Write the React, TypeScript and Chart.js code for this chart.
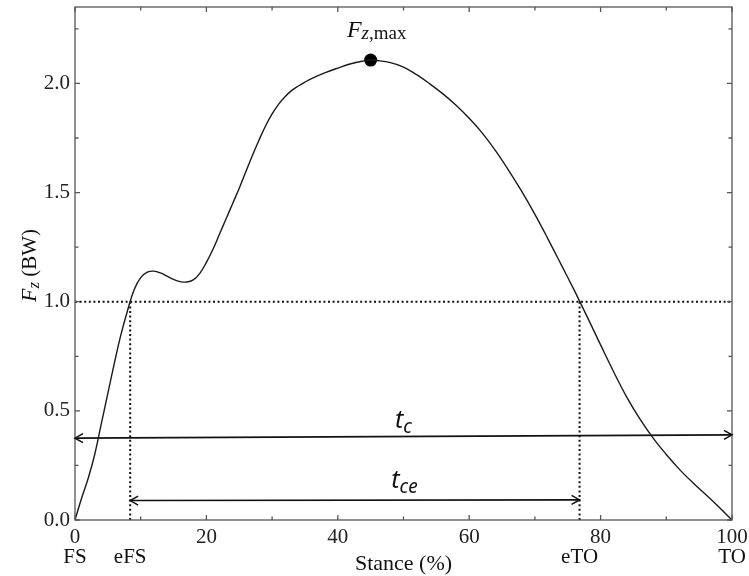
import React, { useEffect, useRef } from "react";
import { Chart, registerables } from "chart.js";

Chart.register(...registerables);

// Stance (%) and vertical GRF (BW)
const stance = [0, 1, 2, 3, 4, 5, 6, 7, 8, 9, 10, 11, 12, 13, 14, 15, 16, 17, 18, 19, 20, 21, 22, 23, 24, 25, 26, 27, 28, 29, 30, 31, 32, 33, 34, 35, 36, 38, 40, 42, 44, 45, 46, 48, 50, 52, 54, 56, 58, 60, 62, 64, 66, 68, 70, 72, 74, 76, 77, 78, 80, 82, 84, 86, 88, 90, 92, 94, 96, 98, 100];
const force = [0, 0.1, 0.19, 0.3, 0.44, 0.58, 0.72, 0.85, 0.96, 1.055, 1.11, 1.135, 1.14, 1.132, 1.117, 1.102, 1.092, 1.09, 1.1, 1.13, 1.18, 1.24, 1.31, 1.38, 1.45, 1.52, 1.595, 1.67, 1.74, 1.805, 1.86, 1.905, 1.94, 1.968, 1.988, 2.006, 2.022, 2.048, 2.07, 2.09, 2.103, 2.107, 2.105, 2.095, 2.075, 2.04, 1.998, 1.952, 1.9, 1.84, 1.772, 1.692, 1.602, 1.505, 1.4, 1.287, 1.17, 1.052, 0.99, 0.928, 0.802, 0.678, 0.562, 0.462, 0.375, 0.3, 0.232, 0.172, 0.117, 0.06, 0];

const xTicks = [0, 20, 40, 60, 80, 100];
const xMinor = [10, 30, 50, 70, 90];
const yTicks = [0, 0.5, 1.0, 1.5, 2.0];
const yMinor = [0.25, 0.75, 1.25, 1.75, 2.25];

const peakX = [45];
const peakY = [2.107];
const threshold = [1.0];
const eventX = [8.4, 76.8]; // eFS, eTO
const tcX = [0, 100];
const tcY = [0.375, 0.39];
const tceX = [8.4, 76.8];
const tceY = [0.089, 0.092];
const bottomLabels = ["FS", "eFS", "eTO", "TO"];
const bottomLabelX = [0, 8.4, 76.8, 100];

const SERIF = '"Liberation Serif", "Times New Roman", serif';
const SANS = '"Noto Sans", "Open Sans", sans-serif';

type Part = { text: string; font: string; dy?: number };

function drawParts(ctx: CanvasRenderingContext2D, parts: Part[], x: number, y: number) {
  let total = 0;
  const widths = parts.map((p) => {
    ctx.font = p.font;
    const w = ctx.measureText(p.text).width;
    total += w;
    return w;
  });
  let cx = x - total / 2;
  ctx.textAlign = "left";
  ctx.textBaseline = "alphabetic";
  parts.forEach((p, i) => {
    ctx.font = p.font;
    ctx.fillText(p.text, cx, y + (p.dy || 0));
    cx += widths[i];
  });
}

function arrowHead(ctx: CanvasRenderingContext2D, x: number, y: number, dir: number, angle: number) {
  const len = 8;
  const half = 4.5;
  ctx.save();
  ctx.translate(x, y);
  ctx.rotate(angle);
  ctx.beginPath();
  ctx.moveTo(-dir * len, -half);
  ctx.lineTo(0, 0);
  ctx.lineTo(-dir * len, half);
  ctx.stroke();
  ctx.restore();
}

const decor = {
  id: "decor",
  afterDatasetsDraw(chart: any) {
    const { ctx, chartArea: a, scales } = chart;
    const xs = scales.x;
    const ys = scales.y;
    ctx.save();
    // frame
    ctx.strokeStyle = "#555";
    ctx.lineWidth = 1.3;
    ctx.strokeRect(a.left, a.top, a.right - a.left, a.bottom - a.top);
    // inward ticks
    ctx.beginPath();
    const tickX = (v: number, len: number) => {
      const px = xs.getPixelForValue(v);
      ctx.moveTo(px, a.bottom);
      ctx.lineTo(px, a.bottom - len);
      ctx.moveTo(px, a.top);
      ctx.lineTo(px, a.top + len);
    };
    const tickY = (v: number, len: number) => {
      const py = ys.getPixelForValue(v);
      ctx.moveTo(a.left, py);
      ctx.lineTo(a.left + len, py);
      ctx.moveTo(a.right, py);
      ctx.lineTo(a.right - len, py);
    };
    xTicks.forEach((v) => tickX(v, 5));
    xMinor.forEach((v) => tickX(v, 3.5));
    yTicks.forEach((v) => tickY(v, 5));
    yMinor.forEach((v) => tickY(v, 3.5));
    ctx.stroke();

    // arrow heads
    ctx.strokeStyle = "#111";
    ctx.lineWidth = 1.5;
    const heads = (X: number[], Y: number[]) => {
      const x0 = xs.getPixelForValue(X[0]);
      const y0 = ys.getPixelForValue(Y[0]);
      const x1 = xs.getPixelForValue(X[1]);
      const y1 = ys.getPixelForValue(Y[1]);
      const ang = Math.atan2(y1 - y0, x1 - x0);
      arrowHead(ctx, x1, y1, 1, ang);
      arrowHead(ctx, x0, y0, -1, ang);
    };
    heads(tcX, tcY);
    heads(tceX, tceY);

    ctx.fillStyle = "#111";
    // peak label
    const pkx = xs.getPixelForValue(peakX[0]);
    const pky = ys.getPixelForValue(peakY[0]);
    drawParts(ctx, [
      { text: "F", font: `italic 24px ${SERIF}` },
      { text: "z", font: `italic 19px ${SERIF}`, dy: 2 },
      { text: ",max", font: `19px ${SERIF}`, dy: 2 },
    ], pkx + 6, pky - 23);

    // t_c, t_ce labels
    const mid = xs.getPixelForValue(50);
    drawParts(ctx, [
      { text: "t", font: `italic 25px ${SANS}` },
      { text: "c", font: `italic 19px ${SANS}`, dy: 5 },
    ], mid + 0, ys.getPixelForValue(tcY[0]) - 10);
    drawParts(ctx, [
      { text: "t", font: `italic 25px ${SANS}` },
      { text: "ce", font: `italic 19px ${SANS}`, dy: 5 },
    ], mid + 1, ys.getPixelForValue(tceY[0]) - 13);

    // bottom event labels
    bottomLabels.forEach((t, i) => {
      drawParts(ctx, [{ text: t, font: `21px ${SERIF}` }], xs.getPixelForValue(bottomLabelX[i]), 563);
    });
    // x title
    drawParts(ctx, [{ text: "Stance (%)", font: `22px ${SERIF}` }], (a.left + a.right) / 2, 570);

    // y title
    ctx.save();
    ctx.translate(29, (a.top + a.bottom) / 2 + 2);
    ctx.rotate(-Math.PI / 2);
    drawParts(ctx, [
      { text: "F", font: `italic 22px ${SERIF}` },
      { text: "z", font: `italic 17px ${SERIF}`, dy: 3 },
      { text: " (BW)", font: `21px ${SERIF}` },
    ], 0, 7);
    ctx.restore();
    ctx.restore();
  },
};

export default function App() {
  const ref = useRef<HTMLCanvasElement | null>(null);
  useEffect(() => {
    if (!ref.current) return;
    const curve = stance.map((x, i) => ({ x, y: force[i] }));
    const dotted = {
      borderColor: "#111",
      borderWidth: 2,
      borderDash: [2, 2.6],
      pointRadius: 0,
      fill: false,
    };
    const chart = new Chart(ref.current, {
      type: "line",
      data: {
        datasets: [
          { data: curve, borderColor: "#1a1a1a", borderWidth: 1.4, pointRadius: 0, tension: 0.4, fill: false },
          { ...dotted, data: [{ x: 0, y: threshold[0] }, { x: 100, y: threshold[0] }] },
          { ...dotted, data: [{ x: eventX[0], y: 0 }, { x: eventX[0], y: threshold[0] }] },
          { ...dotted, data: [{ x: eventX[1], y: 0 }, { x: eventX[1], y: threshold[0] }] },
          { data: tcX.map((x, i) => ({ x, y: tcY[i] })), borderColor: "#111", borderWidth: 1.6, pointRadius: 0 },
          { data: tceX.map((x, i) => ({ x, y: tceY[i] })), borderColor: "#111", borderWidth: 1.6, pointRadius: 0 },
          { data: peakX.map((x, i) => ({ x, y: peakY[i] })), showLine: false, pointRadius: 6.5, pointBackgroundColor: "#000", pointBorderColor: "#000", pointBorderWidth: 0 },
        ] as any,
      },
      options: {
        responsive: false,
        animation: false,
        events: [],
        layout: { padding: { left: 0, top: 7, right: 17, bottom: 0 } },
        plugins: { legend: { display: false }, tooltip: { enabled: false }, title: { display: false } },
        scales: {
          x: {
            type: "linear",
            min: 0,
            max: 100,
            grid: { display: false, drawTicks: false },
            border: { display: false },
            afterBuildTicks: (s: any) => { s.ticks = xTicks.map((v) => ({ value: v })); },
            afterFit: (s: any) => { s.height = 56; s.paddingLeft = 0; s.paddingRight = 0; },
            ticks: { padding: 5, color: "#222", font: { family: SERIF, size: 21 }, callback: (v: any) => String(v), maxRotation: 0, autoSkip: false },
          },
          y: {
            type: "linear",
            min: 0,
            max: 2.35,
            grid: { display: false, drawTicks: false },
            border: { display: false },
            afterBuildTicks: (s: any) => { s.ticks = yTicks.map((v) => ({ value: v })); },
            afterFit: (s: any) => { s.width = 75; s.paddingTop = 0; s.paddingBottom = 0; },
            ticks: { padding: 5, color: "#222", font: { family: SERIF, size: 21 }, callback: (v: any) => Number(v).toFixed(1), autoSkip: false },
          },
        },
      },
      plugins: [decor],
    });
    return () => chart.destroy();
  }, []);
  return (
    <div style={{ position: "absolute", left: 0, top: 0, width: 749, height: 576, background: "#fff" }}>
      <canvas ref={ref} width={749} height={576} />
    </div>
  );
}
